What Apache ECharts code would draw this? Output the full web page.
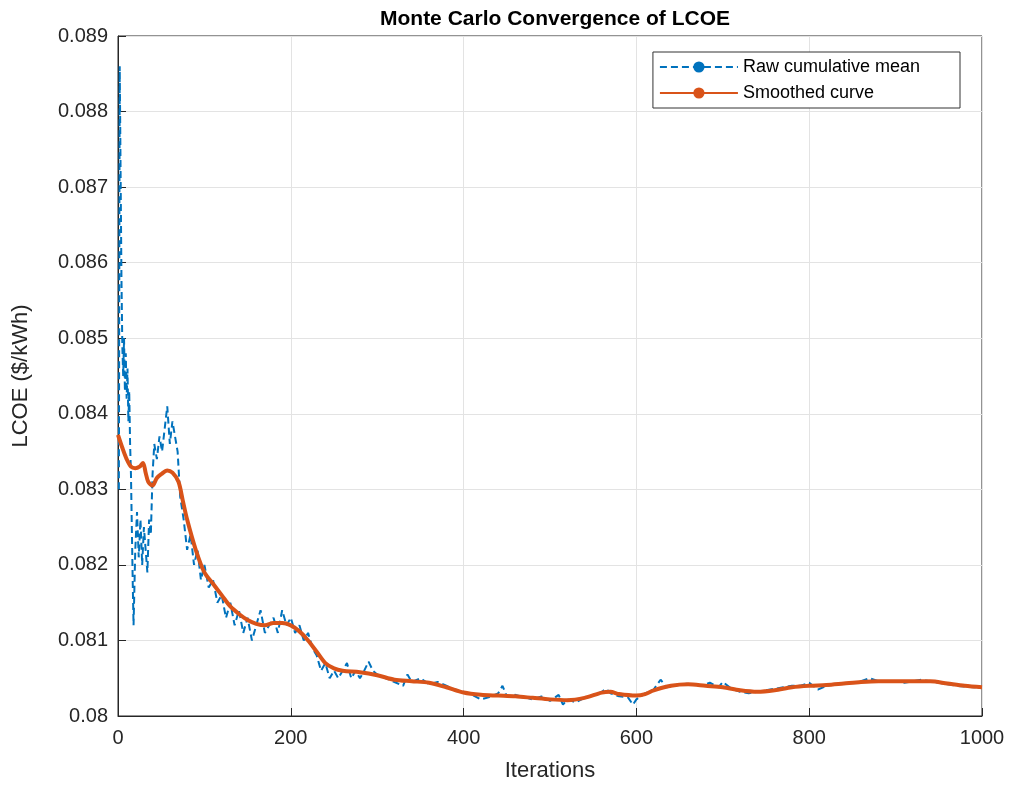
<!DOCTYPE html>
<html>
<head>
<meta charset="utf-8">
<script src="https://cdn.jsdelivr.net/npm/echarts@6/dist/echarts.min.js"></script>
<style>html,body{margin:0;padding:0;background:#fff}#chart1{width:1012px;height:800px}</style>
</head>
<body>
<div id="chart1"></div>
<script>
// 原始累计均值 (迭代, LCOE)
let raw = [
    [1,0.0830],[2,0.0886],[3,0.0872],[4,0.0858],[5,0.0849],[6,0.0845],[7,0.0850],[8,0.0843],[9,0.0848],[10,0.0842],
    [11,0.0846],[12,0.0839],[13,0.0843],[14,0.0836],[15,0.0832],[16,0.0825],[17,0.0818],[18,0.0812],[20,0.0822],[22,0.0827],
    [24,0.0821],[26,0.0826],[28,0.0820],[30,0.0825],[32,0.0822],[34,0.0819],[36,0.0826],[38,0.0824],[40,0.0832],[42,0.0836],
    [45,0.0834],[48,0.0837],[51,0.0835],[54,0.0838],[57,0.0841],[60,0.0836],[63,0.0839],[66,0.0837],[69,0.0835],[72,0.0829],
    [76,0.0826],[80,0.0822],[84,0.0824],[88,0.0820],[92,0.0822],[96,0.0818],[100,0.0820],[105,0.0817],[110,0.0818],[115,0.0815],
    [120,0.0816],[125,0.0813],[130,0.0815],[135,0.0812],[140,0.0814],[145,0.0811],[150,0.0813],[155,0.0810],[160,0.0812],[165,0.0814],
    [170,0.0811],[175,0.0812],[180,0.0813],[185,0.0811],[190,0.0814],[195,0.0812],[200,0.0813],[205,0.0811],[210,0.0812],[215,0.0810],
    [220,0.0811],[225,0.0809],[230,0.0808],[235,0.0806],[240,0.0807],[245,0.0805],[250,0.0806],[255,0.0805],[260,0.0806],[265,0.0807],
    [270,0.0805],[275,0.0806],[280,0.0805],[285,0.0806],[290,0.08072],[295,0.0806],[300,0.08055],[310,0.0805],[320,0.08045],[330,0.0804],
    [335,0.08055],[340,0.08045],[350,0.0805],[360,0.08042],[370,0.08045],[380,0.0804],[390,0.08035],[400,0.08032],[410,0.08028],[420,0.08022],
    [430,0.08025],[440,0.0803],[445,0.0804],[450,0.08026],[460,0.08028],[470,0.08025],[480,0.08022],[490,0.08026],[500,0.0802],[510,0.08028],
    [515,0.08015],[520,0.08022],[530,0.08018],[540,0.08024],[550,0.08028],[560,0.08032],[565,0.08036],[570,0.0803],[580,0.08026],[590,0.08025],
    [596,0.08015],[600,0.08022],[610,0.0803],[620,0.08035],[628,0.08048],[635,0.08038],[645,0.0804],[655,0.08043],[665,0.08042],[675,0.0804],
    [685,0.08044],[695,0.08038],[700,0.08045],[710,0.08036],[720,0.08032],[730,0.0803],[740,0.08032],[750,0.08034],[760,0.08036],[770,0.08038],
    [780,0.0804],[790,0.0804],[800,0.08044],[810,0.08035],[820,0.0804],[830,0.08042],[840,0.08043],[850,0.08044],[860,0.08046],[870,0.0805],
    [880,0.08046],[890,0.08045],[900,0.08046],[910,0.08044],[920,0.08046],[930,0.08048],[940,0.08046],[950,0.08044],[960,0.08042],[970,0.0804],
    [980,0.08039],[990,0.08038],[1000,0.08038]
];
// 平滑曲线
let smooth = [
    [0,0.08372],[5,0.08355],[10,0.0834],[15,0.0833],[20,0.08328],[25,0.0833],[29,0.08335],[32,0.08322],[35,0.0831],[40,0.08305],
    [45,0.08315],[50,0.0832],[57,0.08325],[63,0.08322],[70,0.0831],[75,0.08285],[80,0.0826],[90,0.0822],[100,0.0819],[110,0.08175],
    [120,0.0816],[130,0.08145],[140,0.08135],[150,0.08127],[160,0.08122],[170,0.0812],[180,0.08123],[190,0.08123],[200,0.0812],[210,0.08112],
    [220,0.081],[230,0.08085],[240,0.0807],[250,0.08063],[260,0.0806],[280,0.08058],[300,0.08054],[320,0.08048],[340,0.08046],[360,0.08044],
    [380,0.08038],[400,0.08031],[420,0.08028],[440,0.08027],[460,0.08026],[480,0.08024],[500,0.08022],[520,0.08021],[540,0.08024],[560,0.08031],
    [570,0.08032],[580,0.08029],[600,0.08027],[610,0.08029],[620,0.08034],[640,0.0804],[660,0.08042],[680,0.0804],[700,0.08038],[720,0.08034],
    [740,0.08032],[760,0.08034],[780,0.08038],[800,0.0804],[820,0.08041],[840,0.08043],[860,0.08045],[880,0.08046],[900,0.08046],[920,0.08046],
    [940,0.08046],[960,0.08043],[980,0.0804],[1000,0.08038]
];

let chart = echarts.init(document.getElementById("chart1"));
let font = 'Liberation Sans';
let axisText = { color: '#262626', fontSize: 20, fontFamily: font };
let option = {
    backgroundColor: '#fff',
    animation: false,
    title: {
        text: 'Monte Carlo Convergence of LCOE',
        left: 550, top: 4, textAlign: 'center',
        textStyle: { fontSize: 21, fontWeight: 'bold', color: '#000', fontFamily: font }
    },
    legend: {
        right: 52, top: 52, orient: 'vertical', itemWidth: 78, itemHeight: 14, itemGap: 8,
        backgroundColor: '#fff', borderColor: '#333', borderWidth: 1, borderRadius: 0,
        padding: [6, 40, 6, 6],
        textStyle: { fontSize: 18, color: '#000', fontFamily: font },
        data: ['Raw cumulative mean', 'Smoothed curve']
    },
    grid: { left: 118, right: 30, top: 36, bottom: 84, show: true, borderColor: '#262626', borderWidth: 1 },
    xAxis: {
        type: 'value', min: 0, max: 1000, interval: 200,
        name: 'Iterations', nameLocation: 'middle', nameGap: 44,
        nameTextStyle: { fontSize: 22, color: '#262626', fontFamily: font },
        axisLabel: Object.assign({ margin: 12, formatter: function (v) { return String(v); } }, axisText),
        axisLine: { lineStyle: { color: '#262626' } },
        axisTick: { inside: true, length: 8, lineStyle: { color: '#262626' } },
        splitLine: { show: true, lineStyle: { color: '#e3e3e3' } }
    },
    yAxis: {
        type: 'value', min: 0.080, max: 0.089, interval: 0.001,
        name: 'LCOE ($/kWh)', nameLocation: 'middle', nameGap: 86,
        nameTextStyle: { fontSize: 22, color: '#262626', fontFamily: font },
        axisLabel: Object.assign({
            margin: 10,
            formatter: function (v) { return parseFloat(v.toFixed(3)).toString(); }
        }, axisText),
        axisLine: { show: true, lineStyle: { color: '#262626' } },
        axisTick: { inside: true, length: 8, lineStyle: { color: '#262626' } },
        splitLine: { show: true, lineStyle: { color: '#e3e3e3' } }
    },
    series: [
        {
            name: 'Raw cumulative mean', type: 'line', data: raw, symbol: 'none',
            color: '#0072BD', lineStyle: { width: 2, type: [7, 4], color: '#0072BD' }
        },
        {
            name: 'Smoothed curve', type: 'line', data: smooth, symbol: 'none', smooth: 0.3,
            color: '#D95319', lineStyle: { width: 4, color: '#D95319' }
        }
    ]
};
chart.setOption(option);
</script>
</body>
</html>
